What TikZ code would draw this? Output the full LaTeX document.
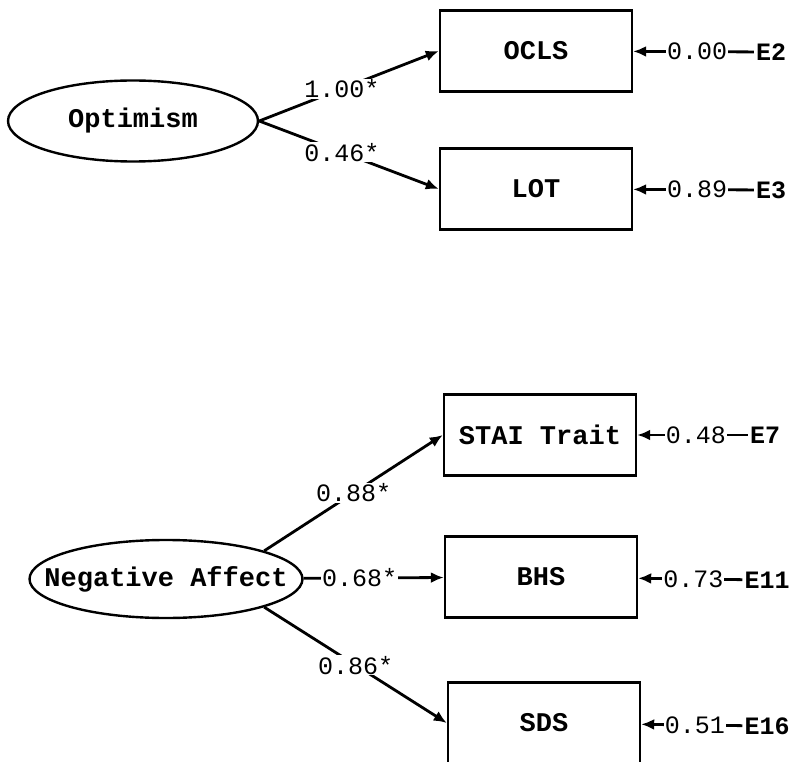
\documentclass[tikz,border=0pt]{standalone}
\usepackage{fontspec}
\setmainfont{Liberation Mono}
\usepackage{tikz}
\usetikzlibrary{arrows.meta,positioning,shapes.geometric}

\begin{document}
\begin{tikzpicture}[
  x=1pt,y=-1pt,
  font=\fontsize{25}{30}\selectfont,
  latent/.style={draw,ellipse,line width=2.4pt,inner sep=0pt,font=\fontsize{27}{30}\selectfont\bfseries},
  obs/.style={draw,rectangle,line width=2.4pt,minimum width=192pt,minimum height=81pt,inner sep=0pt,font=\fontsize{27}{30}\selectfont\bfseries},
  err/.style={inner sep=2pt,font=\fontsize{25}{30}\selectfont\bfseries},
  coef/.style={fill=white,inner sep=1pt},
  arr/.style={-{Latex[length=13pt,width=11pt]},line width=2.8pt}
]
\useasboundingbox (0,0) rectangle (798,762);
% latent factors
\node[latent,minimum width=250pt,minimum height=81pt] (Opt) at (133,121) {\makebox[0pt]{Optimism}};
\node[latent,minimum width=273pt,minimum height=78pt] (NA) at (166,579) {\makebox[0pt]{Negative Affect}};
% indicators
\node[obs] (OCLS) at (536,51) {OCLS};
\node[obs] (LOT) at (536,189) {LOT};
\node[obs] (STAI) at (540,435) {STAI Trait};
\node[obs] (BHS) at (541,577) {BHS};
\node[obs] (SDS) at (544,723) {SDS};
% error terms
\node[err] (E2) at (771,52) {E2};
\node[err] (E3) at (771,190) {E3};
\node[err] (E7) at (765,435) {E7};
\node[err] (E11) at (767,580) {E11};
\node[err] (E16) at (767,726) {E16};
% loadings
\draw[arr] (Opt.east)--node[coef,pos=0.46]{1.00*}(OCLS.west);
\draw[arr] (Opt.east)--node[coef,pos=0.46]{0.46*}(LOT.west);
\draw[arr] (NA.16)--node[coef,pos=0.5]{0.88*}(STAI.west);
\draw[arr] (NA)--node[coef,pos=0.4]{0.68*}(BHS);
\draw[arr] (NA.-16)--node[coef,pos=0.5]{0.86*}(SDS.west);
% residuals
\draw[arr] (E2)--node[coef,pos=0.47]{0.00}(OCLS);
\draw[arr] (E3)--node[coef,pos=0.47]{0.89}(LOT);
\draw[arr] (E7)--node[coef,pos=0.47]{0.48}(STAI);
\draw[arr] (E11)--node[coef,pos=0.47]{0.73}(BHS);
\draw[arr] (E16)--node[coef,pos=0.47]{0.51}(SDS);
\end{tikzpicture}
\end{document}
